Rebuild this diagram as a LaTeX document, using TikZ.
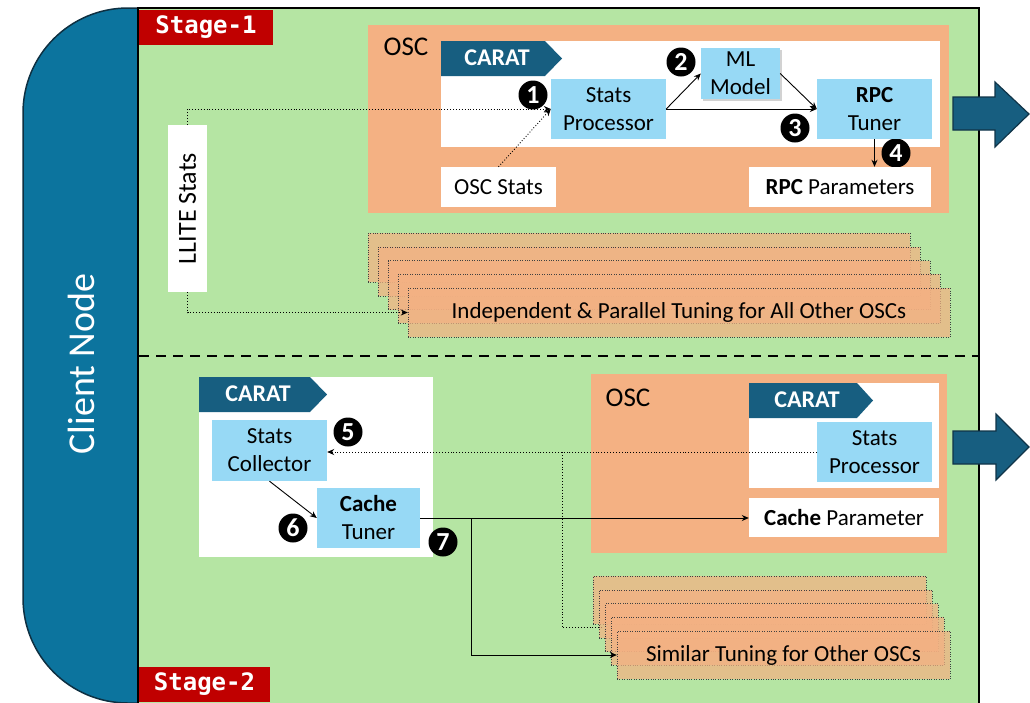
\documentclass[tikz,border=0pt]{standalone}
\usepackage{fontspec}
\setmainfont{Carlito}
\newfontfamily\stagefont{DejaVu Sans Mono}
\usetikzlibrary{arrows.meta,shadows,calc}
\definecolor{clientblue}{RGB}{12,116,158}
\definecolor{clientedge}{RGB}{14,48,66}
\definecolor{bggreen}{RGB}{181,229,163}
\definecolor{oscorange}{RGB}{244,177,131}
\definecolor{boxblue}{RGB}{151,217,245}
\definecolor{caratblue}{RGB}{23,94,128}
\definecolor{arrowedge}{RGB}{16,52,72}
\definecolor{stagered}{RGB}{192,0,0}
\begin{document}
\begin{tikzpicture}[x=1pt,y=-1pt,
  txt/.style={inner sep=0pt, align=center, font=\fontsize{23}{28}\selectfont},
  procbox/.style={txt, fill=boxblue, minimum width=115pt, minimum height=60pt},
  whitebox/.style={txt, fill=white},
  caratlbl/.style={inner sep=0pt, text=white, font=\fontsize{24}{28}\selectfont\bfseries},
  badge/.style={circle, fill=black, text=white, inner sep=0pt, minimum size=29pt, font=\fontsize{26}{26}\selectfont\bfseries},
  stackbox/.style={draw=black!75, dotted, fill=oscorange, fill opacity=0.72, inner sep=0pt},
  stagelbl/.style={fill=stagered, text=white, inner sep=0pt, font=\fontsize{24}{26}\stagefont\bfseries},
  dotarrow/.style={dotted, line width=0.9pt, -{Stealth[length=7pt,width=6pt]}},
  solarrow/.style={line width=0.9pt, -{Stealth[length=7pt,width=6pt]}},
  bigarrow/.style={fill=caratblue, draw=arrowedge, line width=1.2pt, line join=miter},
  oscbg/.style={fill=oscorange}
]
\useasboundingbox (0,0) rectangle (1030,702);

% client node column
\draw[fill=clientblue, draw=clientedge, line width=1.5pt, rounded corners=105pt]
  (138,8) -- (23,8) -- (23,703) -- (138,703);
\node[rotate=90, text=white, inner sep=0pt, font=\fontsize{38}{40}\selectfont] (client) at (81,364) {Client Node};

% main green panel
\draw[fill=bggreen, draw=black, line width=2pt] (138,8) rectangle (979,704);

% stage labels
\node[stagelbl, minimum width=134pt, minimum height=35pt] (stage1) at (206,27.5) {Stage-1};
\node[stagelbl, minimum width=131pt, minimum height=35pt] (stage2) at (204.5,684.5) {Stage-2};

% divider
\draw[line width=2.5pt, dash pattern=on 10pt off 7pt] (139,356) -- (978,356);

% ================= Stage 1 =================
\fill[oscbg] (368,25) rectangle (949,213);
\node[inner sep=0pt, font=\fontsize{27}{30}\selectfont] (osc1) at (406,47) {OSC};
\fill[white] (441,41) rectangle (940,147);
\fill[caratblue] (441,41) -- (545,41) -- (562,58.5) -- (545,76) -- (441,76) -- cycle;
\node[caratlbl] (carat1) at (497,58) {CARAT};

% LLITE stats
\node[whitebox, rotate=90, minimum width=167pt, minimum height=39pt, font=\fontsize{26}{28}\selectfont] (llite) at (187.5,208.5) {LLITE Stats};

% stack 1
\foreach \i in {0,...,4}{
  \node[stackbox, minimum width=542pt, minimum height=49pt] (sa\i) at ({639+10*\i},{257.5+13.75*\i}) {};
}
\node[txt] (satext) at (sa4.center) {Independent \& Parallel Tuning for All Other OSCs};

% badge 4 sits under RPC Parameters box
\node[badge] (b4) at (896,153) {4};

% boxes stage 1
\node[procbox] (sp1) at (608.5,109) {Stats\\Processor};
\node[procbox, minimum width=79pt, minimum height=51pt, drop shadow={shadow xshift=1.5pt, shadow yshift=-1.5pt, opacity=0.35}] (ml) at (740.5,73.5) {ML\\Model};
\node[procbox] (rpc) at (874.5,109) {\textbf{RPC}\\Tuner};
\node[whitebox, minimum width=115pt, minimum height=40pt] (oscstats) at (498.5,187) {OSC Stats};
\node[whitebox, minimum width=182pt, minimum height=40pt] (rpcpar) at (840,187) {\textbf{RPC} Parameters};

% arrows stage 1
\draw[dotarrow] (llite.east) |- (sp1.west);
\draw[dotarrow] (llite.west) |- (sa4.west);
\draw[dotarrow] (oscstats.north) -- (sp1.west);
\draw[solarrow] (sp1.east) -- (ml.west);
\draw[solarrow] (sp1.east) -- (rpc.west);
\draw[solarrow] (ml.east) -- (rpc.west);
\draw[solarrow] (rpc.south) -- (rpc.south |- rpcpar.north);

\node[badge] (b1) at (533,95) {1};
\node[badge] (b2) at (681,62) {2};
\node[badge] (b3) at (795,128) {3};

% big arrow 1
\draw[bigarrow] (953,97) -- (995,97) -- (995,82) -- (1029,114) -- (995,147) -- (995,130) -- (953,130) -- cycle;

% ================= Stage 2 =================
\fill[white] (199,377) rectangle (433,557);
\fill[caratblue] (199,377) -- (310,377) -- (327,394.5) -- (310,412) -- (199,412) -- cycle;
\node[caratlbl] (carat2) at (258,393.5) {CARAT};

\fill[oscbg] (591,374) rectangle (947,553);
\node[inner sep=0pt, font=\fontsize{27}{30}\selectfont] (osc2) at (628,398) {OSC};
\fill[white] (749,383) rectangle (939,488);
\fill[caratblue] (749,383) -- (857,383) -- (873,400.5) -- (857,418) -- (749,418) -- cycle;
\node[caratlbl] (carat3) at (807,400) {CARAT};

\node[procbox, minimum height=61pt] (sc) at (269.5,450.5) {Stats\\Collector};
\node[procbox, minimum width=103pt] (ct) at (368.5,518) {\textbf{Cache}\\Tuner};
\node[procbox] (sp2) at (874.5,452) {Stats\\Processor};
\node[whitebox, minimum width=190pt, minimum height=39pt] (cachepar) at (844,517.5) {\textbf{Cache} Parameter};

% dotted branch under the stack
\coordinate (br5) at (562,452);
\draw[dotted, line width=0.9pt] (br5) |- (602,627.5);

% stack 2
\foreach \i in {0,...,4}{
  \node[stackbox, minimum width=333pt, minimum height=48pt] (sb\i) at ({759.5+6*\i},{600+13.75*\i}) {};
}
\node[txt] (sbtext) at (sb4.center) {Similar Tuning for Other OSCs};

% arrows stage 2
\draw[dotarrow] (sp2.west) -- (sp2.west -| sc.east);
\draw[solarrow] (sc.south) -- (ct.west);
\draw[solarrow] (ct.east) -- (ct.east -| cachepar.west);
\coordinate (br7) at (471,518);
\draw[solarrow] (br7) |- (sb4.west);

\node[badge] (b5) at (348,432) {5};
\node[badge] (b6) at (293,528) {6};
\node[badge] (b7) at (443,542) {7};

% big arrow 2
\draw[bigarrow] (953,431) -- (996,431) -- (996,414) -- (1029,447) -- (996,480) -- (996,464) -- (953,464) -- cycle;
\end{tikzpicture}
\end{document}
